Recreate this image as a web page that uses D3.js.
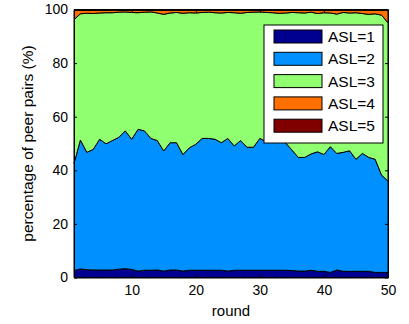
<!DOCTYPE html>
<html>
<head>
<meta charset="utf-8">
<script src="https://cdn.jsdelivr.net/npm/d3@7"></script>
<style>
  body { margin: 0; background: #fff; }
  svg { display: block; font-family: "Liberation Sans", Arial, sans-serif; }
</style>
</head>
<body>
<div id="chart"></div>
<script>
// rounds 1..50
const rounds = d3.range(1, 51);

// share of peer pairs (%) per ASL level
const asl1 = [2.6, 3.2, 2.9, 2.8, 2.8, 2.8, 2.8, 3.1, 3.3, 3.0,
              2.4, 2.7, 2.7, 2.8, 2.4, 2.8, 2.8, 2.4, 2.7, 2.7,
              2.7, 2.7, 2.7, 2.7, 2.4, 2.7, 2.7, 2.7, 2.7, 2.7,
              2.7, 2.7, 2.7, 2.7, 2.6, 2.4, 2.4, 2.7, 2.3, 2.3,
              1.9, 2.8, 2.3, 2.3, 2.3, 2.3, 2.3, 1.9, 1.9, 1.9];
const asl2 = [40.0, 48.1, 43.8, 45.0, 48.8, 47.1, 48.3, 49.2, 51.4, 48.6,
              52.9, 52.0, 49.2, 48.3, 44.8, 47.5, 47.5, 43.5, 45.7, 47.0,
              49.2, 49.2, 48.9, 47.6, 49.5, 46.4, 48.4, 45.9, 45.9, 49.2,
              48.0, 48.0, 48.0, 47.6, 45.0, 42.4, 42.4, 43.4, 44.6, 43.6,
              46.9, 43.5, 44.4, 45.0, 41.8, 44.0, 42.5, 42.2, 36.3, 34.1];
const asl3 = [53.6, 47.1, 51.9, 50.7, 47.1, 48.9, 47.7, 46.7, 44.4, 47.3,
              43.5, 44.3, 47.2, 47.6, 51.0, 48.4, 48.6, 52.7, 50.4, 49.0,
              47.0, 47.1, 47.2, 48.4, 47.0, 49.7, 47.5, 50.3, 50.4, 47.2,
              48.2, 48.1, 47.9, 48.4, 51.3, 54.0, 53.9, 52.9, 51.6, 52.9,
              49.9, 52.0, 52.2, 51.4, 54.7, 52.2, 53.4, 54.3, 59.7, 59.0];
const asl4 = [3.4, 1.3, 1.1, 1.2, 1.0, 0.9, 0.9, 0.7, 0.6, 0.8,
              0.9, 0.7, 0.6, 1.0, 1.5, 1.0, 0.8, 1.1, 0.9, 1.0,
              0.8, 0.7, 0.9, 1.0, 0.8, 0.9, 1.1, 0.8, 0.7, 0.6,
              0.8, 0.9, 1.1, 1.0, 0.8, 0.9, 1.0, 0.7, 1.2, 0.9,
              1.0, 1.4, 0.8, 1.0, 0.9, 1.2, 1.5, 1.3, 1.8, 4.7];
const asl5 = [0.4, 0.3, 0.3, 0.3, 0.3, 0.3, 0.3, 0.3, 0.3, 0.3,
              0.3, 0.3, 0.3, 0.3, 0.3, 0.3, 0.3, 0.3, 0.3, 0.3,
              0.3, 0.3, 0.3, 0.3, 0.3, 0.3, 0.3, 0.3, 0.3, 0.3,
              0.3, 0.3, 0.3, 0.3, 0.3, 0.3, 0.3, 0.3, 0.3, 0.3,
              0.3, 0.3, 0.3, 0.3, 0.3, 0.3, 0.3, 0.3, 0.3, 0.3];

const seriesNames = ["ASL=1", "ASL=2", "ASL=3", "ASL=4", "ASL=5"];
const seriesColors = ["#000090", "#0090ff", "#90ff70", "#ff7000", "#800000"];
const xTicks = [10, 20, 30, 40, 50];
const yTicks = [0, 20, 40, 60, 80, 100];

const width = 409, height = 324;
const margin = { top: 9.5, right: 21, bottom: 46.5, left: 74 };

const svg = d3.select("#chart").append("svg")
    .attr("width", width)
    .attr("height", height);

const x = d3.scaleLinear().domain([1, 50]).range([margin.left, width - margin.right]);
const y = d3.scaleLinear().domain([0, 100]).range([height - margin.bottom, margin.top]);

// build table for the stack
const table = rounds.map((r, i) => ({
    round: r,
    "ASL=1": asl1[i], "ASL=2": asl2[i], "ASL=3": asl3[i], "ASL=4": asl4[i], "ASL=5": asl5[i]
}));
const stacked = d3.stack().keys(seriesNames)(table);

const area = d3.area()
    .x(d => x(d.data.round))
    .y0(d => y(d[0]))
    .y1(d => y(d[1]));

svg.append("g").selectAll("path")
    .data(stacked)
    .enter().append("path")
    .attr("d", area)
    .attr("fill", (d, i) => seriesColors[i])
    .attr("stroke", "#000")
    .attr("stroke-width", 1)
    .attr("stroke-linejoin", "round");

// axes, MATLAB style: ticks inside, box on
const tickLen = 3;
const xAxis = svg.append("g")
    .attr("transform", `translate(0,${y(0)})`)
    .call(d3.axisBottom(x).tickValues(xTicks).tickSizeInner(-tickLen).tickSizeOuter(0).tickPadding(8));
const xAxisTop = svg.append("g")
    .attr("transform", `translate(0,${y(100)})`)
    .call(d3.axisTop(x).tickValues(xTicks).tickSizeInner(-tickLen).tickSizeOuter(0).tickFormat(""));
const yAxis = svg.append("g")
    .attr("transform", `translate(${x(1)},0)`)
    .call(d3.axisLeft(y).tickValues(yTicks).tickSizeInner(-tickLen).tickSizeOuter(0).tickPadding(6));
const yAxisRight = svg.append("g")
    .attr("transform", `translate(${x(50)},0)`)
    .call(d3.axisRight(y).tickValues(yTicks).tickSizeInner(-tickLen).tickSizeOuter(0).tickFormat(""));

[xAxis, xAxisTop, yAxis, yAxisRight].forEach(g => {
    g.select(".domain").attr("stroke", "#000").attr("stroke-width", 1);
    g.selectAll(".tick line").attr("stroke", "#000");
    g.selectAll(".tick text")
        .attr("font-family", "Liberation Sans, Arial, sans-serif")
        .attr("font-size", "14px")
        .attr("fill", "#000");
});

// axis labels
svg.append("text")
    .attr("x", (x(1) + x(50)) / 2)
    .attr("y", 316)
    .attr("text-anchor", "middle")
    .attr("font-size", "15px")
    .attr("fill", "#000")
    .text("round");

svg.append("text")
    .attr("transform", `translate(33,${(y(0) + y(100)) / 2}) rotate(-90)`)
    .attr("text-anchor", "middle")
    .attr("font-size", "15.5px")
    .attr("fill", "#000")
    .text("percentage of peer pairs (%)");

// legend
const legend = svg.append("g").attr("transform", "translate(264,25)");
legend.append("rect")
    .attr("width", 119)
    .attr("height", 118)
    .attr("fill", "#fff")
    .attr("stroke", "#000");

const rows = legend.selectAll(".row")
    .data(seriesNames)
    .enter().append("g")
    .attr("class", "row")
    .attr("transform", (d, i) => `translate(10,${5 + i * 22.3})`);

rows.append("rect")
    .attr("width", 48)
    .attr("height", 13)
    .attr("fill", (d, i) => seriesColors[i])
    .attr("stroke", "#000")
    .attr("stroke-width", 1);

rows.append("text")
    .attr("x", 54)
    .attr("y", 12)
    .attr("font-size", "15.5px")
    .attr("fill", "#000")
    .text(d => d);
</script>
</body>
</html>
